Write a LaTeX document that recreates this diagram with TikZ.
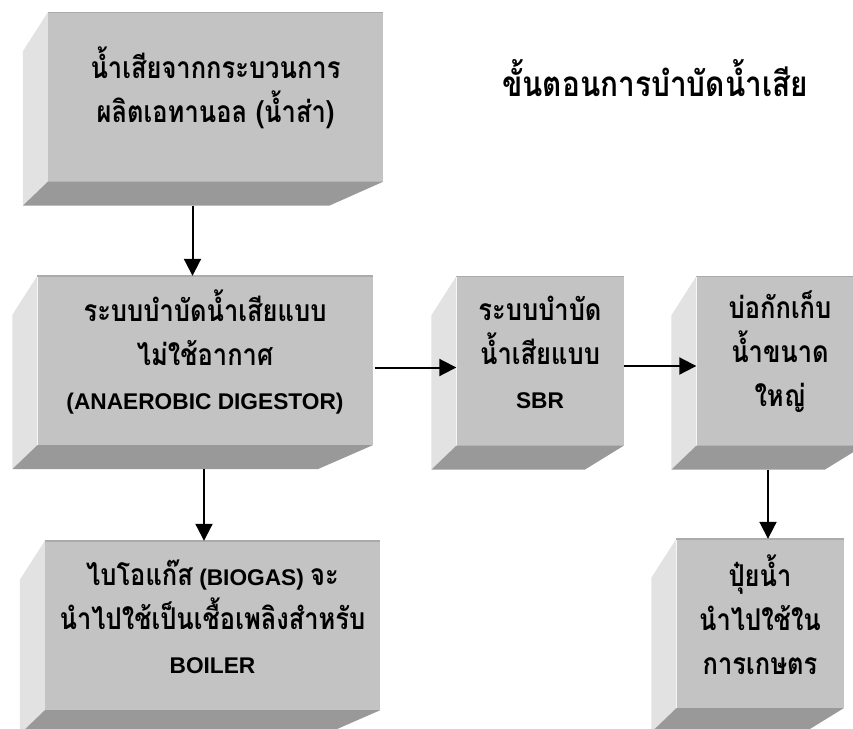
\documentclass[tikz,border=0pt]{standalone}
\usepackage{fontspec}
\setmainfont{Liberation Sans}
\newfontfamily\thaifont[Script=Thai,FakeStretch=0.85]{Loma}
\usetikzlibrary{calc,arrows.meta}

\definecolor{facegray}{HTML}{C3C3C3}
\definecolor{sidegray}{HTML}{E2E2E2}
\definecolor{basegray}{HTML}{999999}
\definecolor{rimgray}{HTML}{ABABAB}

\newcommand{\thtxt}[1]{{\thaifont\fontsize{30}{44}\selectfont #1}}
\newcommand{\boxsides}[2]{%
	\fill[sidegray] (#1.north west) -- ++(-25,39) -- ($(#1.south west)+(-25,24)$) -- (#1.south west) -- cycle;
	\fill[basegray] (#1.south west) -- (#1.south east) -- ++(-#2,24) -- ($(#1.south west)+(-25,24)$) -- cycle;
	\draw[rimgray,line width=1.5pt] (#1.north west) -- (#1.north east);
}

\begin{document}
\begin{tikzpicture}[x=1pt,y=-1pt,
		box/.style={fill=facegray,inner sep=0pt},
		lbl/.style={align=center,yshift=9pt,font=\bfseries\fontsize{22.7}{44}\selectfont},
		wide/.style={box,minimum width=335pt,minimum height=169pt},
		narrow/.style={box,minimum width=167pt,minimum height=169pt},
		arr/.style={line width=2pt,-{Triangle[length=17pt,width=17pt]}}]
		\useasboundingbox (0,0) rectangle (853,728);
		
		\node[wide,label={[lbl]center:{\thtxt{น้ำเสียจากกระบวนการ}\\ \thtxt{ผลิตเอทานอล (น้ำส่า)}}}] (source) at (215.5,97) {};
		\node[wide,label={[lbl]center:{\thtxt{ระบบบำบัดน้ำเสียแบบ}\\ \thtxt{ไม่ใช้อากาศ}\\ (ANAEROBIC DIGESTOR)}}] (anaer) at (205,360.5) {};
		\node[narrow,label={[lbl]center:{\thtxt{ระบบบำบัด}\\ \thtxt{น้ำเสียแบบ}\\ SBR}}] (sbr) at (540,361) {};
		\node[narrow,label={[lbl]center:{\thtxt{บ่อกักเก็บ}\\ \thtxt{น้ำขนาด}\\ \thtxt{ใหญ่}}}] (pond) at (780,361) {};
		\node[wide,label={[lbl]center:{\thtxt{ไบโอแก๊ส} (BIOGAS) \thtxt{จะ}\\ \thtxt{นำไปใช้เป็นเชื้อเพลิงสำหรับ}\\ BOILER}}] (biogas) at (212.5,625.5) {};
		\node[narrow,label={[lbl]center:{\thtxt{ปุ๋ยน้ำ}\\ \thtxt{นำไปใช้ใน}\\ \thtxt{การเกษตร}}}] (fert) at (760,623.5) {};
		\foreach \b/\d in {source/54,anaer/55,sbr/39,pond/39,biogas/55,fert/39}
		\boxsides{\b}{\d};
		
		\node[font=\bfseries] (title) at (655,78) {{\thaifont\fontsize{35}{44}\selectfont ขั้นตอนการบำบัดน้ำเสีย}};
		
		\coordinate (a1) at ($(source.south)+(-23,24)$);
		\draw[arr] (a1) -- (a1 |- anaer.north);
		\coordinate (a2) at ($(anaer.east)+(2,7)$);
		\draw[arr] (a2) -- (a2 -| sbr.west);
		\coordinate (a3) at ($(sbr.east)+(0,5)$);
		\draw[arr] (a3) -- (a3 -| pond.west);
		\coordinate (a4) at ($(anaer.south)+(-1,24)$);
		\draw[arr] (a4) -- (a4 |- biogas.north);
		\coordinate (a5) at ($(pond.south)+(-12,24)$);
		\draw[arr] (a5) -- (a5 |- fert.north);
	\end{tikzpicture}
\end{document}
